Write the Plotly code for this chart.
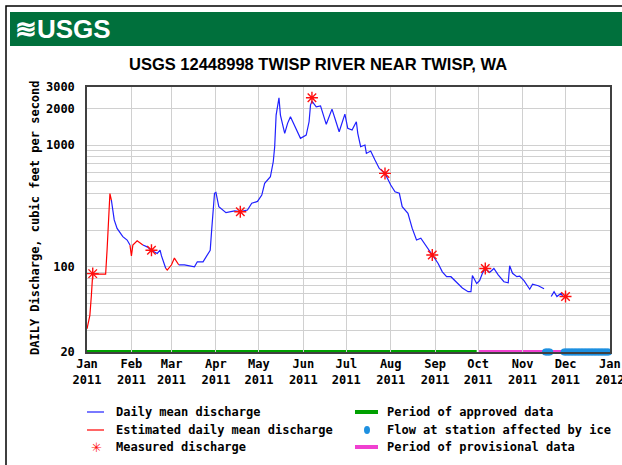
import math
import pandas as pd
import plotly.graph_objects as go

# daily mean discharge read off the hydrograph (cfs); est = estimated (red)
flow_dates = [
    "2011-01-01", "2011-01-03", "2011-01-04", "2011-01-05", "2011-01-06", "2011-01-14",
    "2011-01-15", "2011-01-16", "2011-01-17", "2011-01-18", "2011-01-20", "2011-01-22",
    "2011-01-26", "2011-01-29", "2011-01-31", "2011-02-01", "2011-02-02", "2011-02-05",
    "2011-02-09", "2011-02-12", "2011-02-15", "2011-02-19", "2011-02-21", "2011-02-22",
    "2011-02-25", "2011-02-26", "2011-03-01", "2011-03-03", "2011-03-06", "2011-03-10",
    "2011-03-17", "2011-03-19", "2011-03-23", "2011-03-25", "2011-03-28", "2011-03-29",
    "2011-03-31", "2011-04-01", "2011-04-03", "2011-04-08", "2011-04-14", "2011-04-18",
    "2011-04-23", "2011-04-26", "2011-04-30", "2011-05-03", "2011-05-05", "2011-05-09",
    "2011-05-11", "2011-05-12", "2011-05-13", "2011-05-15", "2011-05-16", "2011-05-19",
    "2011-05-21", "2011-05-23", "2011-05-26", "2011-05-30", "2011-06-03", "2011-06-05",
    "2011-06-06", "2011-06-07", "2011-06-10", "2011-06-13", "2011-06-17", "2011-06-21",
    "2011-06-26", "2011-06-30", "2011-07-02", "2011-07-05", "2011-07-08", "2011-07-09",
    "2011-07-11", "2011-07-14", "2011-07-15", "2011-07-18", "2011-07-21", "2011-07-24",
    "2011-07-28", "2011-08-01", "2011-08-04", "2011-08-07", "2011-08-09", "2011-08-13",
    "2011-08-16", "2011-08-19", "2011-08-22", "2011-08-27", "2011-08-30", "2011-09-03",
    "2011-09-06", "2011-09-09", "2011-09-12", "2011-09-17", "2011-09-20", "2011-09-24",
    "2011-09-26", "2011-09-27", "2011-09-30", "2011-10-02", "2011-10-04", "2011-10-06",
    "2011-10-09", "2011-10-12", "2011-10-15", "2011-10-19", "2011-10-22", "2011-10-23",
    "2011-10-25", "2011-10-28", "2011-10-30", "2011-11-02", "2011-11-06", "2011-11-08",
    "2011-11-12", "2011-11-16", "2011-11-18", "2011-11-21", "2011-11-23", "2011-11-25",
    "2011-11-28", "2011-11-29",
]
flow_cfs = [
    31, 40, 57, 88, 87, 87,
    137, 243, 400, 354, 243, 207,
    177, 166, 151, 123, 151, 164,
    151, 146, 137, 129, 137, 123,
    97, 94, 104, 118, 104, 104,
    100, 110, 110, 121, 137, 200,
    402, 409, 312, 279, 288, 284,
    293, 333, 345, 389, 485, 550,
    730, 970, 1766, 2450, 1766, 1250,
    1510, 1710, 1416, 1137, 1210, 1556,
    2133, 2300, 2066, 2100, 1483, 1977,
    1288, 1800, 1374, 1330, 1556, 1250,
    970, 1002, 855, 894, 754, 644,
    586, 470, 414, 402, 312, 275,
    207, 166, 172, 142, 125, 107,
    91, 83, 83, 73, 67, 62.5,
    62.5, 85, 73, 77, 88.5, 97,
    90, 97, 86, 75.5, 74, 102,
    88.5, 83, 84, 77, 65.5, 72,
    70, 66, None, 57, 62.5, 57,
    60.7, 57,
]
flow_est = [
    1, 1, 1, 1, 1, 1,
    1, 1, 1, 0, 0, 0,
    0, 0, 0, 1, 1, 1,
    0, 0, 0, 0, 0, 0,
    0, 1, 1, 1, 0, 0,
] + [0] * (len(flow_cfs) - 30)

meas_dates = ["2011-01-05", "2011-02-15", "2011-04-18", "2011-06-07",
              "2011-07-28", "2011-08-30", "2011-10-06", "2011-12-01"]
meas_cfs = [88, 137, 284, 2450, 586, 125, 97, 57]

ice_periods = [("2011-11-17", "2011-11-20"), ("2011-11-30", "2011-12-31")]
approved_period = ("2011-01-01", "2011-09-30")
provisional_period = ("2011-10-01", "2012-01-01")

month_ticks = ["2011-%02d-01" % m for m in range(1, 13)] + ["2012-01-01"]
month_labels = ["Jan<br>2011", "Feb<br>2011", "Mar<br>2011", "Apr<br>2011", "May<br>2011",
                "Jun<br>2011", "Jul<br>2011", "Aug<br>2011", "Sep<br>2011", "Oct<br>2011",
                "Nov<br>2011", "Dec<br>2011", "Jan<br>2012"]
y_grid = [20, 30, 40, 50, 60, 70, 80, 90, 100, 200, 300, 400, 500, 600, 700, 800, 900,
          1000, 2000, 3000]
y_labeled = {20: "20", 100: "100", 1000: "1000", 2000: "2000", 3000: "3000"}

MONO = "DejaVu Sans Mono"
SANS = "Liberation Sans, Arial, sans-serif"

n = len(flow_cfs)
blue_y = [v if not flow_est[i] else None for i, v in enumerate(flow_cfs)]
red_y = [v if (flow_est[i] or (i > 0 and flow_est[i - 1]) or (i < n - 1 and flow_est[i + 1]))
         else None for i, v in enumerate(flow_cfs)]

ice_days = []
for a, b in ice_periods:
    ice_days += [d.strftime("%Y-%m-%d") for d in pd.date_range(a, b, freq="D")]

fig = go.Figure()
fig.add_trace(go.Scatter(x=flow_dates, y=blue_y, mode="lines",
                         line=dict(color="#2020ff", width=1.2), showlegend=False))
fig.add_trace(go.Scatter(x=flow_dates, y=red_y, mode="lines",
                         line=dict(color="#ff0000", width=1.2), showlegend=False))
fig.add_trace(go.Scatter(x=meas_dates, y=meas_cfs, mode="markers",
                         marker=dict(symbol="asterisk-open", size=10, color="#ff1010",
                                     line=dict(color="#ff1010", width=1.4)),
                         showlegend=False))
fig.add_trace(go.Scatter(x=ice_days, y=[20] * len(ice_days), mode="markers",
                         marker=dict(symbol="circle", size=7, color="#1e90e0"),
                         cliponaxis=False, showlegend=False))

shapes = []
# period bars along the bottom axis
for (a, b), col in [(approved_period, "#00a000"), (provisional_period, "#f040d0")]:
    shapes.append(dict(type="line", xref="x", yref="paper", x0=a, x1=b, y0=0, y1=0,
                       line=dict(color=col, width=4), layer="below"))


def xp(px):
    return (px - 87) / 523


def yp(py):
    return (352 - py) / 265


# outer frame + header band
shapes.append(dict(type="rect", xref="paper", yref="paper", x0=xp(6), x1=xp(640),
                   y0=yp(480), y1=yp(6), line=dict(color="black", width=1.5)))
shapes.append(dict(type="rect", xref="paper", yref="paper", x0=xp(10), x1=xp(640),
                   y0=yp(46), y1=yp(12), line_width=0, fillcolor="#00703c"))

annotations = [
    dict(x=xp(13), y=yp(29), xref="paper", yref="paper", xanchor="left", yanchor="middle",
         text="<b>≋USGS</b>", showarrow=False,
         font=dict(family=SANS, size=26, color="white")),
    dict(x=xp(318), y=yp(64), xref="paper", yref="paper", xanchor="center",
         yanchor="middle", text="<b>USGS 12448998 TWISP RIVER NEAR TWISP, WA</b>",
         showarrow=False, font=dict(family=SANS, size=16.5, color="black")),
    dict(x=xp(35), y=yp(218), xref="paper", yref="paper", textangle=-90,
         xanchor="center", yanchor="middle",
         text="<b>DAILY Discharge, cubic feet per second</b>", showarrow=False,
         font=dict(family=MONO, size=12, color="black")),
]

# legend built by hand (two columns)
rows = [412, 430, 447]
leg_font = dict(family=MONO, size=12, color="black")
for r, (col, lbl) in enumerate([("#2020ff", "Daily mean discharge"),
                                ("#ff0000", "Estimated daily mean discharge")]):
    shapes.append(dict(type="line", xref="paper", yref="paper", x0=xp(87), x1=xp(104),
                       y0=yp(rows[r]), y1=yp(rows[r]), line=dict(color=col, width=1.2)))
    annotations.append(dict(x=xp(114), y=yp(rows[r]), xref="paper", yref="paper",
                            xanchor="left", yanchor="middle", text="<b>%s</b>" % lbl,
                            showarrow=False, font=leg_font))
annotations.append(dict(x=xp(114), y=yp(rows[2]), xref="paper", yref="paper",
                        xanchor="left", yanchor="middle", text="<b>Measured discharge</b>",
                        showarrow=False, font=leg_font))
annotations.append(dict(x=xp(96), y=yp(rows[2]), xref="paper", yref="paper",
                        xanchor="center", yanchor="middle", text="✳", showarrow=False,
                        font=dict(family="DejaVu Sans", size=13, color="#ff1010")))
for r, col, lbl in [(0, "#00a000", "Period of approved data"),
                    (2, "#f040d0", "Period of provisional data")]:
    shapes.append(dict(type="line", xref="paper", yref="paper", x0=xp(355), x1=xp(378),
                       y0=yp(rows[r]), y1=yp(rows[r]), line=dict(color=col, width=4)))
    annotations.append(dict(x=xp(385), y=yp(rows[r]), xref="paper", yref="paper",
                            xanchor="left", yanchor="middle", text="<b>%s</b>" % lbl,
                            showarrow=False, font=leg_font))
shapes.append(dict(type="circle", xref="paper", yref="paper", x0=xp(364), x1=xp(370),
                   y0=yp(rows[1] + 4), y1=yp(rows[1] - 4), fillcolor="#1e90e0",
                   line_width=0))
annotations.append(dict(x=xp(385), y=yp(rows[1]), xref="paper", yref="paper",
                        xanchor="left", yanchor="middle",
                        text="<b>Flow at station affected by ice</b>",
                        showarrow=False, font=leg_font))

fig.update_layout(
    width=622, height=465,
    margin=dict(l=87, r=12, t=87, b=113, pad=0),
    paper_bgcolor="white", plot_bgcolor="white",
    shapes=shapes, annotations=annotations,
    showlegend=False,
    xaxis=dict(type="date", range=["2011-01-01", "2012-01-01 01:00"],
               tickmode="array", tickvals=month_ticks, ticktext=month_labels,
               tickfont=dict(family=MONO, size=12, color="black", weight="bold"),
               ticklabeloverflow="allow", automargin=False,
               showgrid=True, gridcolor="#d0d0d0", gridwidth=1.2,
               showline=True, linecolor="#404040", linewidth=1.5, mirror=True,
               ticks="", zeroline=False),
    yaxis=dict(type="log", range=[math.log10(20) - 0.0005, math.log10(3000) + 0.0005],
               tickmode="array", tickvals=y_grid,
               ticktext=[y_labeled.get(v, "") for v in y_grid],
               tickfont=dict(family=MONO, size=12, color="black", weight="bold"),
               automargin=False,
               showgrid=True, gridcolor="#d0d0d0", gridwidth=1.2,
               showline=True, linecolor="#404040", linewidth=1.5, mirror=True,
               ticks="", ticklabelstandoff=8, zeroline=False),
)

fig.write_html("out.html", config={"displayModeBar": False},
               post_script="document.body.style.margin='0';")
